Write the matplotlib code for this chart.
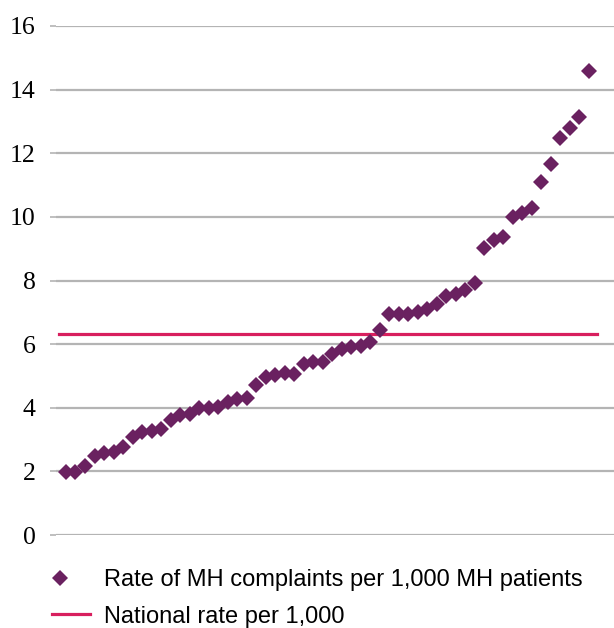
import matplotlib.pyplot as plt
import numpy as np
from matplotlib.legend_handler import HandlerLine2D

# rate of MH complaints per 1,000 MH patients, sorted ascending
rates = [1.97, 1.99, 2.17, 2.48, 2.58, 2.62, 2.76, 3.08, 3.24, 3.27,
         3.32, 3.62, 3.77, 3.82, 3.99, 3.99, 4.01, 4.18, 4.29, 4.3,
         4.73, 4.98, 5.03, 5.09, 5.05, 5.37, 5.45, 5.45, 5.7, 5.85,
         5.9, 5.95, 6.07, 6.43, 6.96, 6.96, 6.96, 7.01, 7.1, 7.26,
         7.5, 7.57, 7.7, 7.92, 9.02, 9.27, 9.36, 9.99, 10.13, 10.27,
         11.1, 11.67, 12.48, 12.79, 13.15, 14.6]
national_rate = 6.33
yticks = [0, 2, 4, 6, 8, 10, 12, 14, 16]


class LeftMarker(HandlerLine2D):
    # single marker sits in the middle of xdata, so shorten it to push the
    # diamond toward the left end of the handle (as Excel does)
    def get_xdata(self, legend, xdescent, ydescent, width, height, fontsize):
        xdata = np.array([-xdescent, -xdescent + 0.44 * width])
        return xdata, xdata


x = np.arange(1, len(rates) + 1)

fig = plt.figure(figsize=(6.14, 6.28), dpi=100)
ax = fig.add_axes([0.092, 0.148, 0.908, 0.8106])

pts, = ax.plot(x, rates, 'D', color='#6a2160', markersize=8, markeredgewidth=0,
               label='Rate of MH complaints per 1,000 MH patients', zorder=3)
ax.plot([0.3, len(rates) + 0.9], [national_rate, national_rate], '-',
        color='#d81f5e', linewidth=2.3, label='National rate per 1,000', zorder=2)

ax.set_xlim(0, 58.65)
ax.set_ylim(0, 16)
ax.set_yticks(yticks)
ax.set_xticks([])
ax.yaxis.grid(True, color='#b4b4b4', linewidth=1.6)
ax.set_axisbelow(True)
for s in ax.spines.values():
    s.set_visible(False)
ax.tick_params(axis='y', length=4, width=1.2, color='#b4b4b4', pad=11,
               labelsize=18.5, labelfontfamily='Liberation Serif')

leg = ax.legend(loc='upper left', bbox_to_anchor=(0.0847, 0.094),
                bbox_transform=fig.transFigure, frameon=False,
                prop={'family': 'Liberation Sans', 'size': 17},
                handlelength=1.6, handletextpad=0.6, labelspacing=0.62,
                borderaxespad=0, borderpad=0,
                handler_map={pts: LeftMarker(numpoints=1)})

fig.savefig('out.png', dpi=100)
